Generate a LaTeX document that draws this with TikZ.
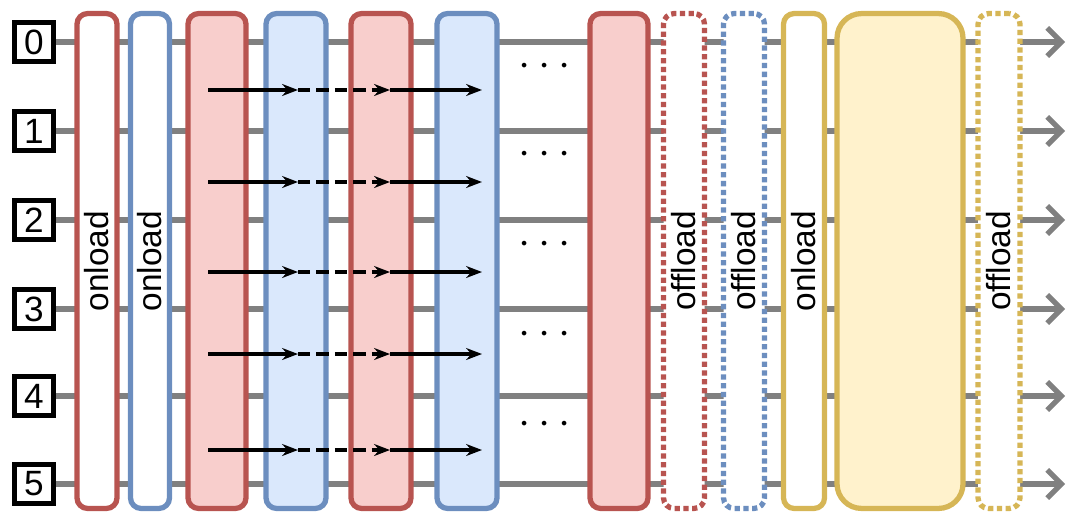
\documentclass[tikz,border=0pt]{standalone}
\usepackage{fontspec}
\setmainfont{Liberation Sans}
\usetikzlibrary{arrows.meta,positioning}
\definecolor{rd}{HTML}{B85450}\definecolor{rdf}{HTML}{F8CECC}
\definecolor{bl}{HTML}{6C8EBF}\definecolor{blf}{HTML}{DAE8FC}
\definecolor{yl}{HTML}{D6B656}\definecolor{ylf}{HTML}{FFF2CC}
\begin{document}
\begin{tikzpicture}[x=0.02cm,y=-0.02cm,
  qb/.style={draw,line width=2.6pt,minimum size=0.78cm,inner sep=0pt,font=\fontsize{20}{20}\selectfont},
  wire/.style={draw=gray,line width=3pt,-{Straight Barb[length=8pt,width=16pt]}},
  bar/.style={draw=#1,line width=3pt,rounded corners=6pt,minimum height=9.9cm,inner sep=0pt},
  txt/.style={rotate=90,font=\fontsize{19}{19}\selectfont},
  go/.style={-{Stealth[length=9pt]},line width=1.9pt}]
  \useasboundingbox (0,0) rectangle (1070,524);
  \foreach \i/\y in {0/42,1/131,2/220,3/309,4/396,5/484} {
    \node[qb] (q\i) at (34,\y) {\i};
    \coordinate (e\i) at (1065,\y);
    \draw[wire] (q\i) -- (e\i);
  }
  % bars
  \node[bar=rd,fill=white,minimum width=0.8cm] (b1) at (97,261) {};
  \node[txt] (t1) at (b1) {onload};
  \node[bar=bl,fill=white,minimum width=0.78cm] (b2) at (150,261) {};
  \node[txt] (t2) at (b2) {onload};
  \node[bar=rd,fill=rdf,minimum width=1.16cm] (b3) at (217,261) {};
  \node[bar=bl,fill=blf,minimum width=1.2cm] (b4) at (296,261) {};
  \node[bar=rd,fill=rdf,minimum width=1.2cm] (b5) at (381,261) {};
  \node[bar=bl,fill=blf,minimum width=1.2cm] (b6) at (467,261) {};
  \node[bar=rd,fill=rdf,minimum width=1.16cm] (b7) at (619,261) {};
  \node[bar=rd,fill=white,dotted,minimum width=0.82cm] (b8) at (684,261) {};
  \node[txt] (t8) at (b8) {offload};
  \node[bar=bl,fill=white,dotted,minimum width=0.82cm] (b9) at (744,261) {};
  \node[txt] (t9) at (b9) {offload};
  \node[bar=yl,fill=white,minimum width=0.82cm] (b10) at (804,261) {};
  \node[txt] (t10) at (b10) {onload};
  \node[bar=yl,fill=ylf,minimum width=2.52cm,rounded corners=14pt] (b11) at (900,261) {};
  \node[bar=yl,fill=white,dotted,minimum width=0.84cm] (b12) at (999,261) {};
  \node[txt] (t12) at (b12) {offload};
  % dots
  \foreach \y [count=\k] in {67,155,245,335,425}
    \node[font=\fontsize{30}{30}\selectfont] (d\k) at (545,\y) {$\cdot\hspace{-1pt}\cdot\hspace{-1pt}\cdot$};
  % arrows
  \foreach \y [count=\k] in {90,182,272,354,450} {
    \coordinate (a\k) at (208,\y); \coordinate (m\k) at (298,\y);
    \coordinate (n\k) at (390,\y); \coordinate (z\k) at (482,\y);
    \draw[go] (a\k) -- (m\k);
    \draw[go,dash pattern=on 7pt off 3.5pt] (m\k) -- (n\k);
    \draw[go] (n\k) -- (z\k);
  }
\end{tikzpicture}
\end{document}
